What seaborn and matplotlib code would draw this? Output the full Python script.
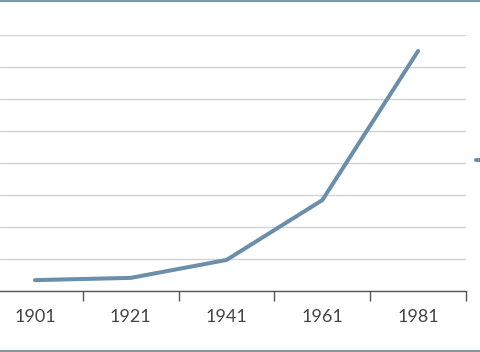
import matplotlib
matplotlib.use("Agg")
import matplotlib.pyplot as plt
import seaborn as sns
import pandas as pd
from matplotlib.lines import Line2D

# Data (in gridline units)
years = ["1901", "1921", "1941", "1961", "1981"]
values = [0.34, 0.41, 0.97, 2.84, 7.5]

LINE_COLOR = "#6b8fab"
BORDER_COLOR = "#7d97a8"
GRID_COLOR = "#d3d3d3"

df = pd.DataFrame({"year": years, "value": values, "series": "series"})

sns.set_style("white")
plt.rcParams["font.family"] = ["Lato", "DejaVu Sans"]

fig = plt.figure(figsize=(4.8, 3.52), dpi=100)
ax = fig.add_axes([0, 61 / 352, 466 / 480, 256 / 352])

sns.lineplot(data=df, x="year", y="value", hue="series", palette=[LINE_COLOR],
             linewidth=2.9, sort=False, ax=ax, legend=False)
ax.lines[0].set_solid_capstyle("round")

ax.set_xlim(-0.365, 4.5)
ax.set_ylim(0, 8)
ax.set_yticks(range(0, 9))
ax.set_yticklabels([])
ax.tick_params(axis="y", length=0)
ax.yaxis.grid(True, color=GRID_COLOR, linewidth=1)
ax.set_axisbelow(True)

# category labels at centres, tick marks between categories
ax.set_xticks(range(len(years)))
ax.set_xticklabels(years, fontsize=13, color="#444444")
ax.set_xticks([i + 0.5 for i in range(len(years))], minor=True)
ax.tick_params(axis="x", which="major", bottom=True, length=0, pad=13)
ax.tick_params(axis="x", which="minor", bottom=True, length=7, width=1,
               color="#555555", direction="out")

for side in ["left", "right", "top"]:
    ax.spines[side].set_visible(False)
ax.spines["bottom"].set_color("#555555")
ax.spines["bottom"].set_linewidth(1)
ax.set_xlabel("")
ax.set_ylabel("")

# legend handle peeking in from the right edge (cropped)
handle = Line2D([0], [0], color=LINE_COLOR, linewidth=2.9)
fig.legend([handle], [""], loc="center left", bbox_to_anchor=(476 / 480, 1 - 161 / 352),
           frameon=False, handlelength=1.5, borderpad=0, borderaxespad=0, fontsize=11)

# frame lines at top and bottom of the panel
fig.add_artist(Line2D([0, 1], [1 - 0.5 / 352, 1 - 0.5 / 352], color=BORDER_COLOR, linewidth=1.5))
fig.add_artist(Line2D([0, 1], [1 - 351 / 352, 1 - 351 / 352], color=BORDER_COLOR, linewidth=1.5))

fig.savefig("out.png", dpi=100)
